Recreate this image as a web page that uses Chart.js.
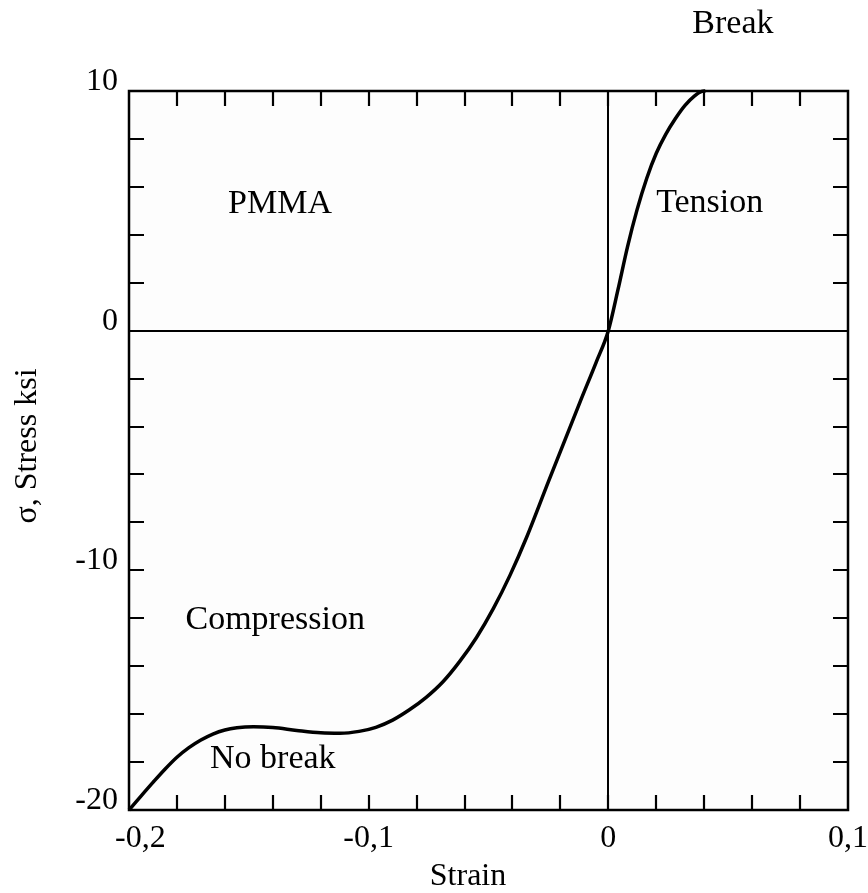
<!DOCTYPE html>
<html>
<head>
<meta charset="utf-8">
<script src="https://cdn.jsdelivr.net/npm/chart.js@4"></script>
<style>
  html, body { margin: 0; padding: 0; background: #ffffff; }
  #wrap { width: 868px; height: 893px; position: relative; }
</style>
</head>
<body>
<div id="wrap"><canvas id="c" width="868" height="893"></canvas></div>
<script>
// ---- data ----
const strain = [-0.2, -0.195, -0.19, -0.185, -0.18, -0.175, -0.17, -0.165, -0.16, -0.155, -0.148, -0.14, -0.13, -0.12, -0.112, -0.104, -0.097, -0.09, -0.083, -0.076, -0.069, -0.062, -0.055, -0.048, -0.041, -0.034, -0.025, -0.0117, -0.005, 0, 0.004, 0.008, 0.012, 0.016, 0.02, 0.024, 0.028, 0.032, 0.036, 0.039, 0.0405];
const stress = [-20, -19.42, -18.85, -18.3, -17.8, -17.4, -17.08, -16.83, -16.66, -16.57, -16.53, -16.56, -16.68, -16.78, -16.8, -16.72, -16.55, -16.25, -15.82, -15.3, -14.65, -13.8, -12.8, -11.6, -10.2, -8.6, -6.3, -2.95, -1.3, 0, 1.7, 3.5, 5.05, 6.35, 7.4, 8.2, 8.85, 9.4, 9.8, 9.98, 10];

const xTickValues = [-0.2, -0.1, 0, 0.1];
const xTickLabels = ['-0,2', '-0,1', '0', '0,1'];
const yTickValues = [10, 0, -10, -20];
const yTickLabels = ['10', '0', '-10', '-20'];

const noteTexts = ['Break', 'PMMA', 'Tension', 'Compression', 'No break'];
const noteStrain = [0.052, -0.137, 0.0423, -0.139, -0.140];
const noteStress = [12.42, 4.92, 4.96, -12.46, -18.25];

const xTitle = 'Strain';
const yTitle = 'σ, Stress ksi';

const FONT = '"Liberation Serif", "Times New Roman", serif';

const framePlugin = {
  id: 'frame',
  beforeDatasetsDraw(chart) {
    const { ctx, chartArea: a, scales } = chart;
    const xs = scales.x, ys = scales.y;
    ctx.save();
    ctx.fillStyle = '#fdfdfd';
    ctx.fillRect(a.left, a.top, a.right - a.left, a.bottom - a.top);
    // zero lines
    ctx.strokeStyle = '#000';
    ctx.lineWidth = 2;
    const x0 = Math.round(xs.getPixelForValue(0));
    const y0 = Math.round(ys.getPixelForValue(0));
    ctx.beginPath();
    ctx.moveTo(x0, a.top); ctx.lineTo(x0, a.bottom);
    ctx.moveTo(a.left, y0); ctx.lineTo(a.right, y0);
    ctx.stroke();
    // inward ticks on all four sides
    const tl = 15;
    ctx.lineWidth = 2.2;
    ctx.beginPath();
    xs.ticks.forEach(t => {
      const px = Math.round(xs.getPixelForValue(t.value));
      if (px <= a.left + 1 || px >= a.right - 1) return;
      ctx.moveTo(px, a.bottom); ctx.lineTo(px, a.bottom - tl);
      ctx.moveTo(px, a.top); ctx.lineTo(px, a.top + tl);
    });
    ys.ticks.forEach(t => {
      const py = Math.round(ys.getPixelForValue(t.value));
      if (py <= a.top + 1 || py >= a.bottom - 1) return;
      ctx.moveTo(a.left, py); ctx.lineTo(a.left + tl, py);
      ctx.moveTo(a.right, py); ctx.lineTo(a.right - tl, py);
    });
    ctx.stroke();
    // frame
    ctx.lineWidth = 2.5;
    ctx.strokeRect(a.left, a.top, a.right - a.left, a.bottom - a.top);
    ctx.restore();
  },
  afterDraw(chart) {
    const { ctx, chartArea: a, scales } = chart;
    const xs = scales.x, ys = scales.y;
    ctx.save();
    ctx.fillStyle = '#000';
    ctx.font = '32px ' + FONT;
    // x tick labels
    ctx.textBaseline = 'alphabetic';
    xTickValues.forEach((v, i) => {
      const px = xs.getPixelForValue(v);
      const w = ctx.measureText(xTickLabels[i]).width;
      let left = px - w / 2;
      if (left < a.left - 14) left = a.left - 14;
      ctx.textAlign = 'left';
      ctx.fillText(xTickLabels[i], left, a.bottom + 37);
    });
    // y tick labels
    ctx.textAlign = 'right';
    yTickValues.forEach((v, i) => {
      const py = ys.getPixelForValue(v);
      ctx.fillText(yTickLabels[i], a.left - 11, py - 1);
    });
    // axis titles
    ctx.textAlign = 'center';
    ctx.fillText(xTitle, 468, 885);
    ctx.save();
    ctx.translate(36, 446);
    ctx.rotate(-Math.PI / 2);
    ctx.fillText(yTitle, 0, 0);
    ctx.restore();
    // annotations
    ctx.font = '34px ' + FONT;
    ctx.textAlign = 'center';
    noteTexts.forEach((t, i) => {
      ctx.fillText(t, xs.getPixelForValue(noteStrain[i]), ys.getPixelForValue(noteStress[i]));
    });
    ctx.restore();
  }
};

new Chart(document.getElementById('c'), {
  type: 'scatter',
  data: {
    datasets: [{
      label: 'PMMA',
      data: strain.map((x, i) => ({ x: x, y: stress[i] })),
      showLine: true,
      borderColor: '#000',
      borderWidth: 3.5,
      pointRadius: 0,
      cubicInterpolationMode: 'monotone',
      fill: false,
      clip: false
    }]
  },
  options: {
    responsive: false,
    animation: false,
    devicePixelRatio: 1,
    layout: { padding: { left: 129, right: 20, top: 91, bottom: 83 } },
    plugins: { legend: { display: false }, tooltip: { enabled: false } },
    scales: {
      x: { type: 'linear', min: -0.2, max: 0.1, display: false, ticks: { stepSize: 0.02 } },
      y: { type: 'linear', min: -20, max: 10, display: false, ticks: { stepSize: 2 } }
    }
  },
  plugins: [framePlugin]
});
</script>
</body>
</html>
